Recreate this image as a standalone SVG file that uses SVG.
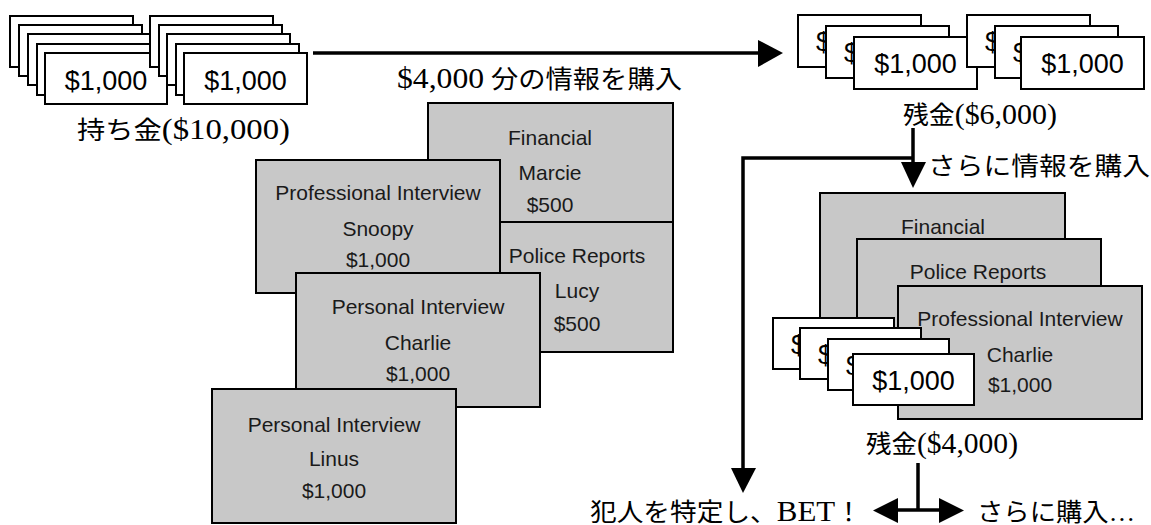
<svg xmlns="http://www.w3.org/2000/svg" width="1151" height="525" viewBox="0 0 1151 525">
<style>
.bill{fill:#fff;stroke:#000;stroke-width:2}
.card{fill:#c8c8c8;stroke:#000;stroke-width:2}
.bt{font-family:"Liberation Sans",Arial,sans-serif;font-size:27px;fill:#000;text-anchor:middle}
.bs{font-family:"Liberation Sans",Arial,sans-serif;font-size:27px;fill:#000}
.ct{font-family:"Liberation Sans",Arial,sans-serif;font-size:21px;fill:#1a1a1a;text-anchor:middle}
.jp{font-family:"Liberation Serif","Noto Sans CJK JP",serif;font-size:25px;fill:#000}
.la{font-size:29px}
.ln{fill:none;stroke:#000;stroke-width:3.5}
.hd{fill:#000}
</style>
<rect width="1151" height="525" fill="#fff"/>

<g id="wallet-start">
  <g id="stack-a">
    <rect class="bill" x="10" y="16" width="123" height="51"/>
    <rect class="bill" x="19" y="25" width="123" height="51"/>
    <rect class="bill" x="28" y="34" width="122" height="51"/>
    <rect class="bill" x="37" y="44" width="122" height="51"/>
    <rect class="bill" x="45" y="53" width="122" height="51"/>
    <text class="bt" x="106" y="90">$1,000</text>
  </g>
  <g id="stack-b">
    <rect class="bill" x="150" y="16" width="123" height="51"/>
    <rect class="bill" x="159" y="25" width="123" height="51"/>
    <rect class="bill" x="167" y="34" width="123" height="51"/>
    <rect class="bill" x="176" y="44" width="123" height="51"/>
    <rect class="bill" x="184" y="53" width="123" height="51"/>
    <text class="bt" x="245.5" y="90">$1,000</text>
  </g>
  <text class="jp" x="77" y="139" textLength="213" lengthAdjust="spacingAndGlyphs">持ち金<tspan class="la">($10,000)</tspan></text>
</g>

<g id="label-buy"><text class="jp" x="397" y="88" textLength="285" lengthAdjust="spacingAndGlyphs"><tspan class="la">$4,000</tspan> 分の情報を購入</text></g>

<g id="wallet-6000">
  <rect class="bill" x="798" y="15" width="123" height="52"/>
  <text class="bs" x="816" y="51">$</text>
  <rect class="bill" x="826" y="26" width="123" height="52"/>
  <text class="bs" x="844" y="62">$</text>
  <rect class="bill" x="854" y="37" width="123" height="52"/>
  <text class="bt" x="915.5" y="73">$1,000</text>
  <rect class="bill" x="967" y="15" width="123" height="52"/>
  <text class="bs" x="985" y="51">$</text>
  <rect class="bill" x="995" y="26" width="123" height="52"/>
  <text class="bs" x="1013" y="62">$</text>
  <rect class="bill" x="1021" y="37" width="123" height="52"/>
  <text class="bt" x="1082.5" y="73">$1,000</text>
  <text class="jp" x="903" y="124" textLength="154" lengthAdjust="spacingAndGlyphs">残金<tspan class="la">($6,000)</tspan></text>
</g>

<g id="card-financial-marcie">
  <rect class="card" x="428" y="103" width="245" height="150"/>
  <text class="ct" x="550" y="145">Financial</text>
  <text class="ct" x="550" y="180">Marcie</text>
  <text class="ct" x="550" y="212">$500</text>
</g>
<g id="card-police-lucy">
  <rect class="card" x="429" y="222" width="244" height="130"/>
  <text class="ct" x="577" y="263">Police Reports</text>
  <text class="ct" x="577" y="298">Lucy</text>
  <text class="ct" x="577" y="331">$500</text>
</g>
<g id="card-professional-snoopy">
  <rect class="card" x="256" y="160" width="244" height="133"/>
  <text class="ct" x="378" y="200">Professional Interview</text>
  <text class="ct" x="378" y="236">Snoopy</text>
  <text class="ct" x="378" y="267">$1,000</text>
</g>
<g id="card-personal-charlie">
  <rect class="card" x="296" y="273" width="244" height="134"/>
  <text class="ct" x="418" y="314">Personal Interview</text>
  <text class="ct" x="418" y="350">Charlie</text>
  <text class="ct" x="418" y="381">$1,000</text>
</g>
<g id="card-personal-linus">
  <rect class="card" x="212" y="389" width="244" height="134"/>
  <text class="ct" x="334" y="432">Personal Interview</text>
  <text class="ct" x="334" y="466">Linus</text>
  <text class="ct" x="334" y="498">$1,000</text>
</g>

<g id="label-buy-more"><text class="jp" x="928" y="175" textLength="222" lengthAdjust="spacingAndGlyphs">さらに情報を購入</text></g>

<g id="card-financial-2">
  <rect class="card" x="820" y="193" width="245" height="165"/>
  <text class="ct" x="943" y="234">Financial</text>
</g>
<g id="card-police-2">
  <rect class="card" x="857" y="239" width="244" height="145"/>
  <text class="ct" x="978" y="279">Police Reports</text>
</g>
<g id="card-professional-charlie">
  <rect class="card" x="898" y="286" width="244" height="133"/>
  <text class="ct" x="1020" y="326">Professional Interview</text>
  <text class="ct" x="1020" y="362">Charlie</text>
  <text class="ct" x="1020" y="392">$1,000</text>
</g>

<g id="wallet-4000">
  <rect class="bill" x="773" y="318" width="121" height="51"/>
  <text class="bs" x="791" y="354">$</text>
  <rect class="bill" x="800" y="328" width="121" height="51"/>
  <text class="bs" x="818" y="364">$</text>
  <rect class="bill" x="828" y="339" width="121" height="51"/>
  <text class="bs" x="846" y="375">$</text>
  <rect class="bill" x="853" y="354" width="121" height="51"/>
  <text class="bt" x="913.5" y="390">$1,000</text>
  <text class="jp" x="866" y="453" textLength="152" lengthAdjust="spacingAndGlyphs">残金<tspan class="la">($4,000)</tspan></text>
</g>

<g id="label-bet"><text class="jp" x="590" y="521" textLength="272" lengthAdjust="spacingAndGlyphs">犯人を特定し、<tspan class="la">BET</tspan>！</text></g>
<g id="label-more"><text class="jp" x="977" y="521" textLength="158" lengthAdjust="spacingAndGlyphs">さらに購入…</text></g>

<g id="connectors">
  <path class="ln" d="M313 53 H759"/>
  <polygon class="hd" points="758,40 783,53 758,67"/>
  <path class="ln" d="M913 128 V163"/>
  <polygon class="hd" points="901,162 926,162 913,188"/>
  <path class="ln" d="M913 158 H743 V469"/>
  <polygon class="hd" points="731,468 756,468 743,493"/>
  <path class="ln" d="M918 463 V510 M897 510 H941"/>
  <polygon class="hd" points="898,498 873,510.5 898,523"/>
  <polygon class="hd" points="939,498 964,510.5 939,523"/>
</g>
</svg>
